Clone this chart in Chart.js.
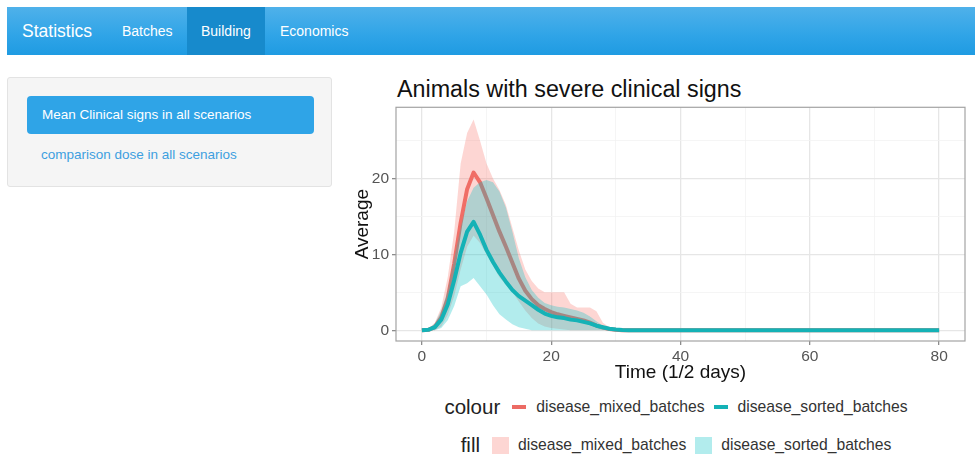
<!DOCTYPE html>
<html lang="en">
<head>
  <meta charset="UTF-8" />
  <title>Animals with severe clinical signs</title>
  <script src="https://cdn.jsdelivr.net/npm/chart.js"></script>
  <style>
    body { margin: 0; background: #fff; font-family: "Liberation Sans", Arial, Helvetica, sans-serif; }
    .navbar { position: absolute; left: 7px; top: 7px; right: 0; height: 48px;
      background: linear-gradient(#4fb1ea, #2fa4e7 60%, #1f9be2); }
    .navbar span { position: absolute; top: 0; line-height: 48px; color: #fff; font-size: 14px; }
    .navbar .brand { font-size: 17.5px; left: 15px; }
    .navbar .active { background: #178acc; padding: 0 14px; }
    .well { position: absolute; left: 7px; top: 77px; width: 325px; height: 110px;
      background: #f5f5f5; border: 1px solid #e3e3e3; border-radius: 3px; box-sizing: border-box; }
    .pill { position: absolute; left: 19px; top: 18px; width: 287px; height: 38px;
      background: #2fa4e7; border-radius: 4px; color: #fff; font-size: 13.5px; line-height: 38px; text-indent: 15px; }
    .link { position: absolute; left: 33px; top: 69px; color: #3d9fe0; font-size: 13.5px; }
    .title { position: absolute; left: 397px; top: 78px; font-size: 23.3px; line-height: 1; color: #111; }
    #chart { position: absolute; left: 340px; top: 95px; }
    .legend { position: absolute; left: 396px; width: 569px; display: flex; justify-content: center;
      align-items: center; color: #222; font-size: 15.7px; height: 22px; }
    .legend .head { font-size: 20.5px; margin-right: 12px; }
    .legend .line { width: 14px; height: 4px; margin-right: 10px; }
    .legend .box { width: 17px; height: 17px; margin-right: 9px; }
    .legend .lab { margin-right: 9px; color: #333; }
  </style>
</head>
<body>
  <div class="navbar">
    <span class="brand">Statistics</span>
    <span style="left:115px">Batches</span>
    <span class="active" style="left:180px">Building</span>
    <span style="left:273px">Economics</span>
  </div>

  <div class="well">
    <div class="pill">Mean Clinical signs in all scenarios</div>
    <div class="link">comparison dose in all scenarios</div>
  </div>

  <div class="title">Animals with severe clinical signs</div>
  <canvas id="chart" width="635" height="292"></canvas>

  <div class="legend" style="top:396px">
    <span class="head">colour</span>
    <span class="line" style="background:#ec6b64"></span><span class="lab">disease_mixed_batches</span>
    <span class="line" style="background:#14b2b6"></span><span class="lab">disease_sorted_batches</span>
  </div>
  <div class="legend" style="top:434px">
    <span class="head">fill</span>
    <span class="box" style="background:rgba(248,118,109,0.3)"></span><span class="lab">disease_mixed_batches</span>
    <span class="box" style="background:rgba(0,191,196,0.3)"></span><span class="lab">disease_sorted_batches</span>
  </div>

  <script>
    // time steps (1/2 days)
    const time = [0,1,2,3,4,5,6,7,8,9,10,11,12,13,14,15,16,17,18,19,20,
      21,22,23,24,25,26,27,28,29,30,31,32,33,34,35,36,37,38,39,40,
      41,42,43,44,45,46,47,48,49,50,51,52,53,54,55,56,57,58,59,60,
      61,62,63,64,65,66,67,68,69,70,71,72,73,74,75,76,77,78,79,80];

    // disease_mixed_batches
    const mixedMean = [0,0.05,0.4,1.7,4.2,8.8,14.2,18.6,20.8,19.5,17.4,15.2,13.0,11.0,8.9,6.8,5.2,4.1,3.3,2.8,2.4,
      2.1,1.9,1.7,1.5,1.3,1.0,0.6,0.35,0.15,0.05,0,0,0,0,0,0,0,0,0,0,
      0,0,0,0,0,0,0,0,0,0,0,0,0,0,0,0,0,0,0,0,
      0,0,0,0,0,0,0,0,0,0,0,0,0,0,0,0,0,0,0,0];
    const mixedHigh = [0,0.2,1,3,7,13,22,26,27.8,25,22,20,18.5,16.5,13.5,10.5,8,6.5,5.5,5,5,
      5,5,3.5,3,3,3,2.5,1,0.4,0.1,0,0,0,0,0,0,0,0,0,0,
      0,0,0,0,0,0,0,0,0,0,0,0,0,0,0,0,0,0,0,0,
      0,0,0,0,0,0,0,0,0,0,0,0,0,0,0,0,0,0,0,0];
    const mixedLow = [0,0,0,0.5,2,4.5,8,11,12.5,11.5,10,8.5,7,6,5,3.8,2.6,1.6,0.9,0.5,0.3,
      0.2,0.1,0,0,0,0,0,0,0,0,0,0,0,0,0,0,0,0,0,0,
      0,0,0,0,0,0,0,0,0,0,0,0,0,0,0,0,0,0,0,0,
      0,0,0,0,0,0,0,0,0,0,0,0,0,0,0,0,0,0,0,0];

    // disease_sorted_batches
    const sortedMean = [0,0.05,0.4,1.4,3.4,6.6,10.2,13.0,14.3,12.6,10.6,9.0,7.6,6.4,5.3,4.5,3.9,3.3,2.7,2.2,1.9,
      1.7,1.6,1.4,1.3,1.1,0.9,0.6,0.4,0.2,0.1,0.03,0,0,0,0,0,0,0,0,0,
      0,0,0,0,0,0,0,0,0,0,0,0,0,0,0,0,0,0,0,0,
      0,0,0,0,0,0,0,0,0,0,0,0,0,0,0,0,0,0,0,0];
    const sortedHigh = [0,0.2,0.9,2.6,5.2,9.5,13.5,17,18.8,19.5,19.8,19.5,18.3,16.2,13,9.5,7,5.3,4.3,3.6,3.3,
      3.1,3,2.8,2.6,2.3,1.8,1.2,0.6,0.3,0.1,0,0,0,0,0,0,0,0,0,0,
      0,0,0,0,0,0,0,0,0,0,0,0,0,0,0,0,0,0,0,0,
      0,0,0,0,0,0,0,0,0,0,0,0,0,0,0,0,0,0,0,0];
    const sortedLow = [0,0,0,0.3,1.3,3.2,5.8,6.2,6.9,5.8,4.7,3.3,2.1,1.4,0.8,0.4,0.2,0,0,0,0,
      0,0,0,0,0,0,0,0,0,0,0,0,0,0,0,0,0,0,0,0,
      0,0,0,0,0,0,0,0,0,0,0,0,0,0,0,0,0,0,0,0,
      0,0,0,0,0,0,0,0,0,0,0,0,0,0,0,0,0,0,0,0];

    // axis breaks
    const xMajor = [0, 20, 40, 60, 80];
    const xMinor = [10, 30, 50, 70];
    const yMajor = [0, 10, 20];
    const yMinor = [5, 15, 25];

    const pts = arr => arr.map((v, i) => ({ x: time[i], y: v }));
    const setTicks = (major, minor) => scale => {
      scale.ticks = major.concat(minor).sort((a, b) => a - b).map(v => ({ value: v }));
    };
    const isMajor = (major, v) => major.includes(v);

    // panel border drawn over the data like ggplot
    const panelBorder = {
      id: 'panelBorder',
      afterDatasetsDraw(chart) {
        const { ctx, chartArea: a } = chart;
        ctx.save();
        ctx.strokeStyle = '#a3a3a3';
        ctx.lineWidth = 1.2;
        ctx.strokeRect(a.left, a.top, a.right - a.left, a.bottom - a.top);
        ctx.restore();
      }
    };

    const ctx = document.getElementById('chart').getContext('2d');
    new Chart(ctx, {
      type: 'line',
      data: {
        datasets: [
          { label: 'disease_sorted_batches', data: pts(sortedMean), borderColor: '#14b2b6',
            borderWidth: 4, pointRadius: 0, fill: false, order: 1, borderJoinStyle: 'round' },
          { label: 'sorted upper', data: pts(sortedHigh), borderWidth: 0, pointRadius: 0,
            backgroundColor: 'rgba(0,191,196,0.3)', fill: '+1', order: 2 },
          { label: 'sorted lower', data: pts(sortedLow), borderWidth: 0, pointRadius: 0,
            fill: false, order: 2 },
          { label: 'mixed upper', data: pts(mixedHigh), borderWidth: 0, pointRadius: 0,
            backgroundColor: 'rgba(248,118,109,0.3)', fill: '+1', order: 3 },
          { label: 'mixed lower', data: pts(mixedLow), borderWidth: 0, pointRadius: 0,
            fill: false, order: 3 },
          { label: 'disease_mixed_batches', data: pts(mixedMean), borderColor: '#ec6b64',
            borderWidth: 4, pointRadius: 0, fill: false, order: 4, borderJoinStyle: 'round' }
        ]
      },
      options: {
        responsive: false,
        animation: false,
        devicePixelRatio: 1,
        layout: { padding: { top: 0, right: 10, left: 0, bottom: 0 } },
        plugins: { legend: { display: false }, tooltip: { enabled: false }, title: { display: false } },
        scales: {
          x: {
            type: 'linear', min: -4, max: 84,
            afterBuildTicks: setTicks(xMajor, xMinor),
            afterFit: s => { s.height = 46; },
            border: { display: false },
            grid: {
              color: c => isMajor(xMajor, c.tick.value) ? '#e6e6e6' : '#f2f2f2',
              lineWidth: c => isMajor(xMajor, c.tick.value) ? 1.3 : 0.8,
              tickColor: c => isMajor(xMajor, c.tick.value) ? '#8c8c8c' : 'rgba(0,0,0,0)',
              tickLength: 4
            },
            ticks: {
              autoSkip: false, maxRotation: 0, padding: 2, color: '#555',
              font: { family: 'Liberation Sans', size: 15.5 },
              callback: v => isMajor(xMajor, v) ? String(v) : ''
            },
            title: { display: true, text: 'Time (1/2 days)', color: '#111',
              font: { family: 'Liberation Sans', size: 19 }, padding: { top: 0, bottom: 3 } }
          },
          y: {
            type: 'linear', min: -1.42, max: 29.4,
            afterBuildTicks: setTicks(yMajor, yMinor),
            afterFit: s => { s.width = 56; },
            border: { display: false },
            grid: {
              color: c => isMajor(yMajor, c.tick.value) ? '#e6e6e6' : '#f2f2f2',
              lineWidth: c => isMajor(yMajor, c.tick.value) ? 1.3 : 0.8,
              tickColor: c => isMajor(yMajor, c.tick.value) ? '#8c8c8c' : 'rgba(0,0,0,0)',
              tickLength: 4
            },
            ticks: {
              autoSkip: false, padding: 3, color: '#555',
              font: { family: 'Liberation Sans', size: 15.5 },
              callback: v => isMajor(yMajor, v) ? String(v) : ''
            },
            title: { display: true, text: 'Average', color: '#111',
              font: { family: 'Liberation Sans', size: 19 }, padding: { top: 11, bottom: 0 } }
          }
        }
      },
      plugins: [panelBorder]
    });
  </script>
</body>
</html>
